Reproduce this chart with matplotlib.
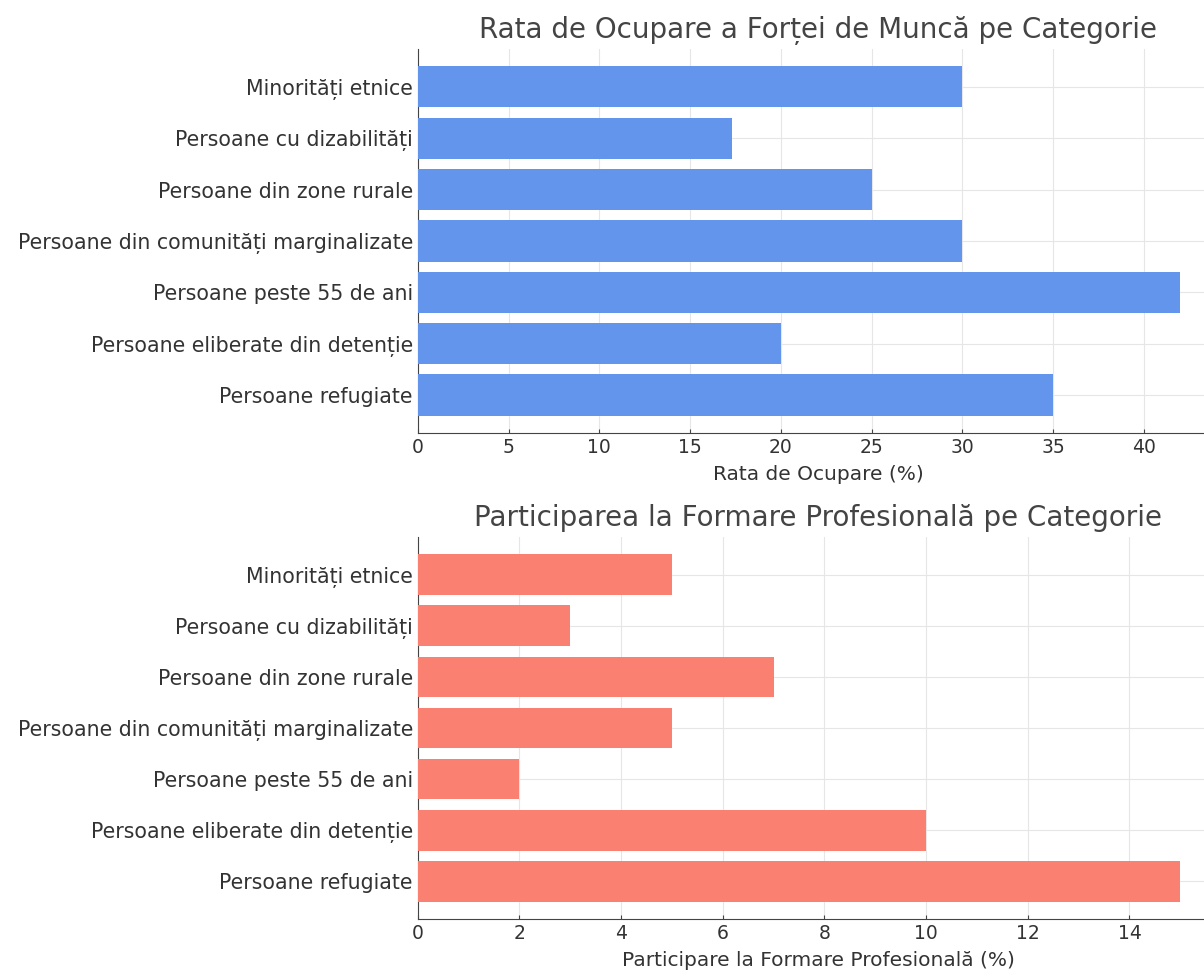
import matplotlib
matplotlib.use("Agg")
import matplotlib.pyplot as plt

# categorii (de sus in jos)
categorii = [
    "Minorități etnice",
    "Persoane cu dizabilități",
    "Persoane din zone rurale",
    "Persoane din comunități marginalizate",
    "Persoane peste 55 de ani",
    "Persoane eliberate din detenție",
    "Persoane refugiate",
]
rata_ocupare = [30, 17.3, 25, 30, 42, 20, 35]
formare_prof = [5, 3, 7, 5, 2, 10, 15]

text_col = "#333333"
plt.rcParams["font.family"] = ["DejaVu Sans"]

fig = plt.figure(figsize=(12.04, 9.73), dpi=100)
ax1 = fig.add_axes([0.347, 0.555, 0.665, 0.3947])
ax2 = fig.add_axes([0.347, 0.0555, 0.665, 0.3926])

def deseneaza(ax, valori, culoare, titlu, xlabel):
    ax.barh(categorii, valori, color=culoare, height=0.8, zorder=3)
    ax.invert_yaxis()
    ax.set_title(titlu, fontsize=20, color="#444444", pad=8)
    ax.set_xlabel(xlabel, fontsize=14.5, color=text_col, labelpad=6)
    ax.grid(True, color="#e6e6e6", linewidth=0.8, zorder=0)
    ax.spines["top"].set_visible(False)
    ax.spines["right"].set_visible(False)
    ax.spines["left"].set_color("#444444")
    ax.spines["bottom"].set_color("#444444")
    ax.tick_params(axis="both", colors="#444444", labelcolor=text_col,
                   direction="in", length=3)
    ax.tick_params(axis="x", labelsize=13.5)
    ax.tick_params(axis="y", labelsize=14.8)

deseneaza(ax1, rata_ocupare, "cornflowerblue",
          "Rata de Ocupare a Forței de Muncă pe Categorie", "Rata de Ocupare (%)")
deseneaza(ax2, formare_prof, "salmon",
          "Participarea la Formare Profesională pe Categorie",
          "Participare la Formare Profesională (%)")

fig.savefig("out.png", dpi=100)
